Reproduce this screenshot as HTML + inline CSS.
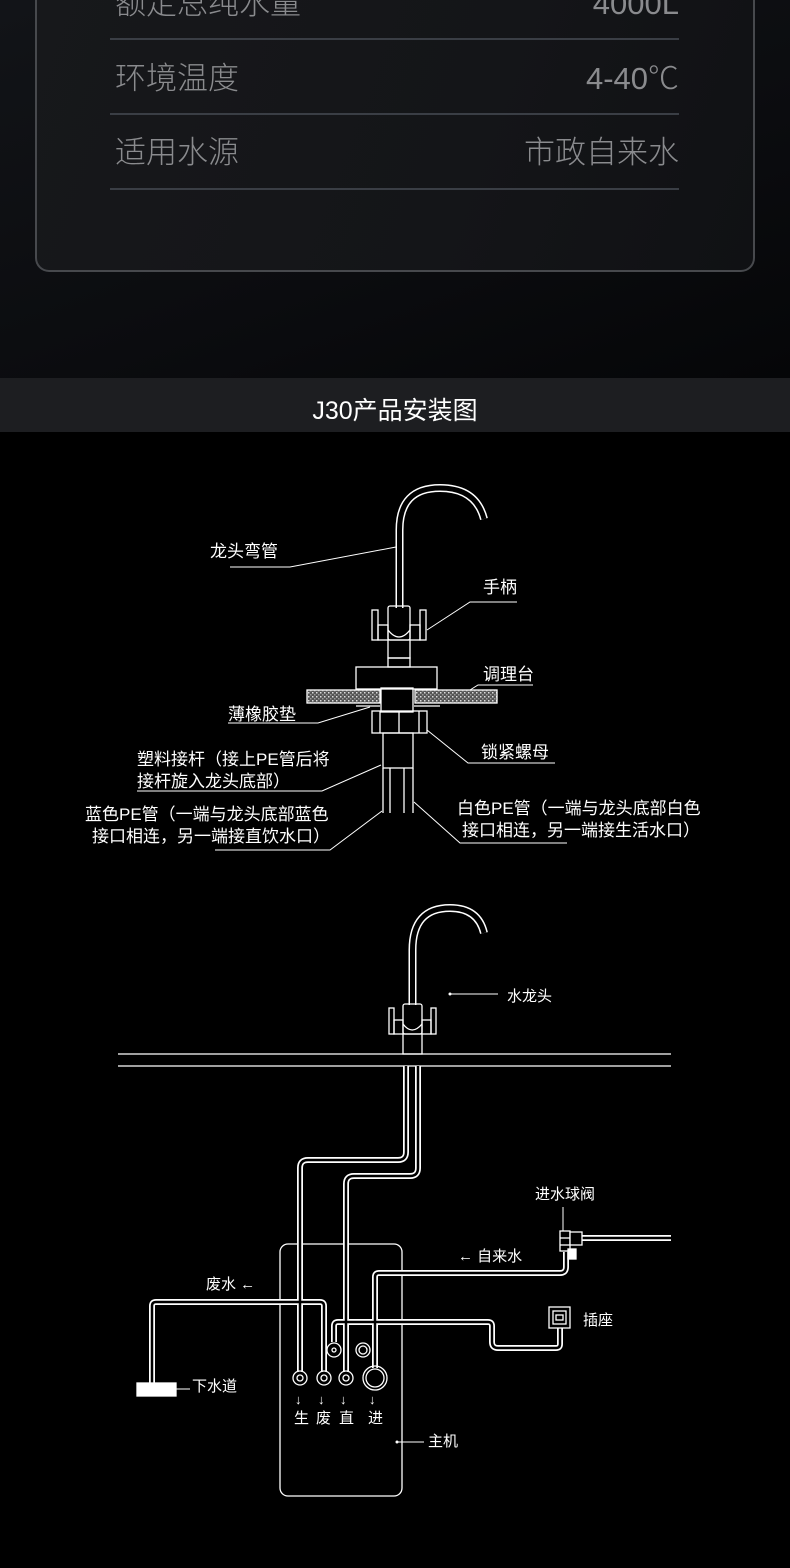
<!DOCTYPE html>
<html><head><meta charset="utf-8"><style>
html,body{margin:0;padding:0;background:#000;}
body{width:790px;height:1568px;position:relative;overflow:hidden;font-family:"Liberation Sans","Noto Sans CJK SC",sans-serif;}
.top{position:absolute;left:0;top:0;width:790px;height:378px;background:linear-gradient(160deg,#121418 0%,#0b0c0f 60%,#050608 100%);}
.card{position:absolute;left:35px;top:-20px;width:720px;height:292px;border:2px solid #47494d;border-top:none;border-radius:0 0 14px 14px;background:linear-gradient(110deg,#17181b 0%,#141518 60%,#101114 100%);box-sizing:border-box;}
.row{position:absolute;left:110px;width:569px;height:2px;background:#3a3e45;}
.t{position:absolute;color:#8a8b8e;font-size:31px;line-height:1;font-weight:300;}
.band{position:absolute;left:0;top:378px;width:790px;height:54px;background:#1d1e21;}
.band div{position:absolute;width:100%;text-align:center;top:13px;color:#fff;font-size:25px;}
svg{position:absolute;left:0;top:0;}
</style></head><body>
<div class="top"></div>
<div class="card"></div>
<div class="t" style="left:115px;top:-12px;">额定总纯水量</div>
<div class="t" style="right:111px;top:-12px;">4000L</div>
<div class="row" style="top:38px"></div>
<div class="t" style="left:115px;top:63px;">环境温度</div>
<div class="t" style="right:111px;top:63px;">4-40℃</div>
<div class="row" style="top:113px"></div>
<div class="t" style="left:115px;top:137px;">适用水源</div>
<div class="t" style="right:111px;top:137px;">市政自来水</div>
<div class="row" style="top:188px"></div>
<div class="band"><div>J30产品安装图</div></div>

<svg width="790" height="1568" viewBox="0 0 790 1568">
<defs>
<pattern id="dots" width="4" height="4" patternUnits="userSpaceOnUse">
<rect width="4" height="4" fill="#555"/><rect x="0" y="0" width="1.5" height="1.5" fill="#ddd"/><rect x="2" y="2" width="1.5" height="1.5" fill="#999"/>
</pattern>
</defs>
<g fill="none" stroke="#fff" stroke-width="1.3">
<path d="M399.5 608 L399.5 530 Q399.5 488 440 488 Q476 488 484 519" stroke-width="8"/>
<path d="M399.5 608 L399.5 530 Q399.5 488 440 488 Q476 488 484 519" stroke="#000" stroke-width="5"/>
<rect x="388" y="606" width="22" height="34" rx="2"/>
<path d="M388 630 Q399 644 410 630"/>
<rect x="372" y="610" width="6" height="30"/><rect x="378" y="625" width="10" height="15"/>
<rect x="420" y="610" width="6" height="30"/><rect x="410" y="625" width="10" height="15"/>
<rect x="388" y="640" width="22" height="18"/><rect x="388" y="658" width="22" height="9"/>
<rect x="356" y="667" width="81" height="22"/>
<rect x="307" y="690" width="73" height="13" fill="url(#dots)"/>
<rect x="415" y="690" width="82" height="13" fill="url(#dots)"/>
<rect x="381" y="688" width="32" height="24"/>
<line x1="356" y1="706" x2="380" y2="706"/><line x1="414" y1="706" x2="440" y2="706"/>
<rect x="372" y="711" width="55" height="22"/>
<line x1="380" y1="711" x2="380" y2="733"/><line x1="399" y1="711" x2="399" y2="733"/><line x1="419" y1="711" x2="419" y2="733"/>
<rect x="383" y="733" width="30" height="35"/>
<line x1="383" y1="768" x2="383" y2="813"/><line x1="390" y1="768" x2="390" y2="813"/>
<line x1="404" y1="768" x2="404" y2="813"/><line x1="413" y1="768" x2="413" y2="813"/>
<g stroke-width="1">
<polyline points="230,567 290,567 396,547"/>
<polyline points="517,602 470,602 427,630"/>
<polyline points="533,685 478,685 470,690"/>
<polyline points="228,723 318,723 370,707"/>
<polyline points="555,763 468,763 427,730"/>
<polyline points="137,791 322,791 381,765"/>
<polyline points="215,850 330,850 382,811"/>
<polyline points="567,843 460,843 414,802"/>
</g>
<path d="M412.5 1005 L412.5 950 Q412.5 908 450 908 Q478 908 484 933" stroke-width="8"/>
<path d="M412.5 1005 L412.5 950 Q412.5 908 450 908 Q478 908 484 933" stroke="#000" stroke-width="5"/>
<rect x="403" y="1004" width="19" height="30" rx="2"/>
<path d="M403 1024 Q412 1036 422 1024"/>
<rect x="389" y="1008" width="5" height="26"/><rect x="394" y="1020" width="9" height="14"/>
<rect x="431" y="1008" width="5" height="26"/><rect x="422" y="1020" width="9" height="14"/>
<rect x="403" y="1034" width="19" height="20"/>
<line x1="118" y1="1054" x2="671" y2="1054"/><line x1="118" y1="1066" x2="671" y2="1066"/>
<rect x="280" y="1244" width="122" height="252" rx="8"/>
<g stroke-width="6">
<path id="p1" d="M406 1066 L406 1152 Q406 1160 398 1160 L308 1160 Q300 1160 300 1168 L300 1372"/>
<path id="p2" d="M418 1066 L418 1168 Q418 1176 410 1176 L354 1176 Q346 1176 346 1184 L346 1372"/>
<path id="p3" d="M324 1372 L324 1306 Q324 1302 320 1302 L156 1302 Q152 1302 152 1306 L152 1384"/>
<path id="p4" d="M375 1368 L375 1277 Q375 1273 379 1273 L560 1273 Q566 1273 566 1267 L566 1252"/>
<path id="p5" d="M334 1342 L334 1326 Q334 1322 338 1322 L488 1322 Q492 1322 492 1326 L492 1342 Q492 1348 498 1348 L556 1348 Q560 1348 560 1344 L560 1328"/>
<path d="M582 1238 L671 1238"/>
</g>
<g stroke="#000" stroke-width="2.5">
<use href="#p1"/><use href="#p2"/><use href="#p3"/><use href="#p4"/><use href="#p5"/>
<path d="M582 1238 L671 1238"/>
</g>
<rect x="137" y="1383" width="39" height="13" fill="#fff"/>
<line x1="176" y1="1389" x2="190" y2="1389" stroke-width="1"/>
<circle cx="300" cy="1378" r="7"/><circle cx="300" cy="1378" r="3"/>
<circle cx="324" cy="1378" r="7"/><circle cx="324" cy="1378" r="3"/>
<circle cx="346" cy="1378" r="7"/><circle cx="346" cy="1378" r="3"/>
<circle cx="375" cy="1378" r="12"/><circle cx="375" cy="1378" r="9"/>
<circle cx="334" cy="1350" r="7" fill="#000"/><circle cx="334" cy="1350" r="2"/>
<circle cx="363" cy="1350" r="7" fill="#000"/><circle cx="363" cy="1350" r="4"/>
<rect x="560" y="1231" width="10" height="20" fill="#000"/>
<line x1="560" y1="1238" x2="570" y2="1238"/><line x1="560" y1="1245" x2="570" y2="1245"/>
<rect x="570" y="1232" width="12" height="13" fill="#000"/>
<rect x="568" y="1249" width="8" height="10" fill="#fff"/>
<rect x="549" y="1307" width="21" height="21" fill="#000"/>
<rect x="553" y="1311" width="13" height="13"/>
<rect x="556" y="1315" width="7" height="5"/>
<g stroke-width="1">
<line x1="563" y1="1207" x2="563" y2="1231"/>
<line x1="451" y1="994" x2="498" y2="994"/>
<line x1="398" y1="1442" x2="424" y2="1442"/>
</g>
</g>
<circle cx="450" cy="994" r="1.5" fill="#fff"/>
<circle cx="397" cy="1442" r="1.5" fill="#fff"/>
<g fill="#fff" font-family="Liberation Sans, Noto Sans CJK SC, sans-serif" font-size="17">
<text x="210" y="557">龙头弯管</text>
<text x="483" y="593">手柄</text>
<text x="483" y="680">调理台</text>
<text x="228" y="720">薄橡胶垫</text>
<text x="481" y="758">锁紧螺母</text>
<text x="137" y="765">塑料接杆（接上PE管后将</text>
<text x="137" y="787">接杆旋入龙头底部）</text>
<text x="85" y="820">蓝色PE管（一端与龙头底部蓝色</text>
<text x="92" y="842">接口相连，另一端接直饮水口）</text>
<text x="457" y="814">白色PE管（一端与龙头底部白色</text>
<text x="462" y="836">接口相连，另一端接生活水口）</text>
<g font-size="15">
<text x="507" y="1001">水龙头</text>
<text x="535" y="1199">进水球阀</text>
<text x="458" y="1261">← 自来水</text>
<text x="206" y="1289">废水 ←</text>
<text x="583" y="1325">插座</text>
<text x="192" y="1391">下水道</text>
<text x="428" y="1446">主机</text>
<text x="294" y="1423">生</text><text x="316" y="1423">废</text><text x="339" y="1423">直</text><text x="368" y="1423">进</text>
<text x="295" y="1404" font-size="13">↓</text><text x="318" y="1404" font-size="13">↓</text><text x="340" y="1404" font-size="13">↓</text><text x="369" y="1404" font-size="13">↓</text>
</g>
</g>
</svg>
</body></html>
